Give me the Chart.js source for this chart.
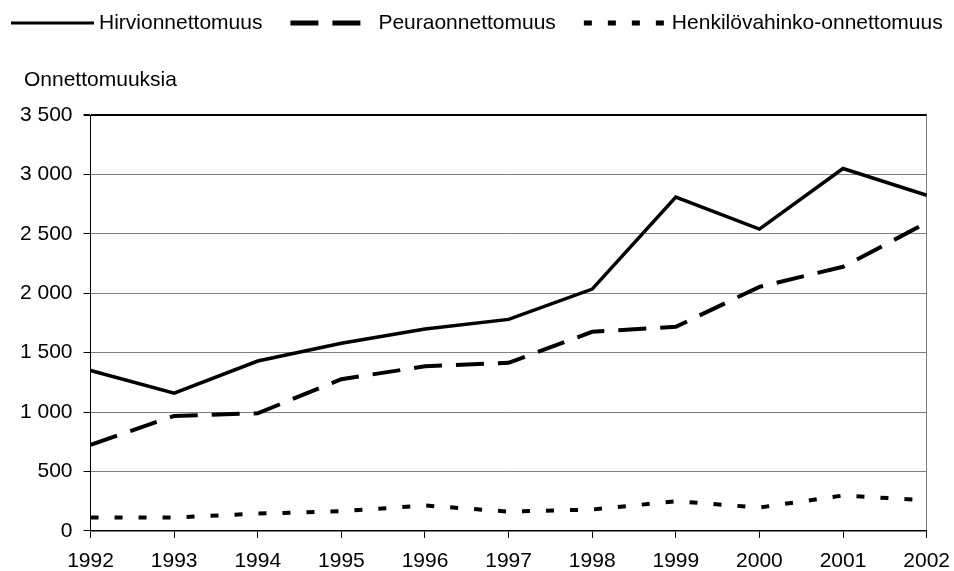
<!DOCTYPE html>
<html>
<head>
<meta charset="utf-8">
<script src="https://cdn.jsdelivr.net/npm/chart.js@4.4.0/dist/chart.umd.min.js"></script>
<style>
    html, body { margin: 0; padding: 0; background: #fff; }
    #wrap { width: 954px; height: 571px; }
</style>
</head>
<body>
<div id="wrap"><canvas id="accidentChart"></canvas></div>
<script>
// data
const years = ["1992", "1993", "1994", "1995", "1996", "1997", "1998", "1999", "2000", "2001", "2002"];
const hirvi = [1350, 1160, 1430, 1580, 1700, 1780, 2035, 2810, 2540, 3050, 2825];
const peura = [725, 968, 990, 1277, 1385, 1415, 1676, 1718, 2054, 2223, 2593];
const henkilo = [113, 113, 146, 166, 214, 163, 180, 250, 197, 298, 258];
const seriesNames = ["Hirvionnettomuus", "Peuraonnettomuus", "Henkilövahinko-onnettomuus"];
const yTitle = "Onnettomuuksia";

const fontFamily = '"Liberation Sans", Arial, sans-serif';
const fontSize = 21;
Chart.defaults.font.family = fontFamily;
Chart.defaults.font.size = fontSize;
Chart.defaults.color = "#000";

// 3 500 style thousands separator
const fmt = (v) => v.toString().replace(/\B(?=(\d{3})+(?!\d))/g, " ");

const makeLine = (label, data, dash, width) => {
    return {
        label: label,
        data: data,
        borderColor: "#000",
        backgroundColor: "#000",
        borderWidth: width,
        borderDash: dash,
        borderCapStyle: "butt",
        borderJoinStyle: "miter",
        pointRadius: 0,
        tension: 0,
        fill: false
    };
};

// legend row + the horizontal axis caption, drawn like the original (line sample, text right after it)
const lineLegend = {
    id: "lineLegend",
    afterDraw(chart) {
        const ctx = chart.ctx;
        ctx.save();
        ctx.font = fontSize + "px " + fontFamily;
        ctx.fillStyle = "#000";
        ctx.textBaseline = "middle";
        ctx.textAlign = "left";
        let x = 11;
        const y = 23;
        chart.data.datasets.forEach((ds) => {
            ctx.save();
            ctx.strokeStyle = ds.borderColor;
            ctx.lineWidth = ds.borderDash.length ? 5 : 3;
            ctx.setLineDash(ds.borderDash);
            ctx.beginPath();
            ctx.moveTo(x, y);
            ctx.lineTo(x + 83, y);
            ctx.stroke();
            ctx.restore();
            ctx.fillText(ds.label, x + 88, y);
            x += 88 + ctx.measureText(ds.label).width + 28;
        });
        ctx.fillText(yTitle, 24, 80);
        ctx.restore();
    }
};

new Chart(document.getElementById("accidentChart"), {
    type: "line",
    data: {
        labels: years,
        datasets: [
            makeLine(seriesNames[0], hirvi, [], 3.5),
            makeLine(seriesNames[1], peura, [28, 14], 4),
            makeLine(seriesNames[2], henkilo, [8, 16], 4)
        ]
    },
    plugins: [lineLegend],
    options: {
        responsive: true,
        maintainAspectRatio: false,
        animation: false,
        layout: { padding: { left: 9, right: 27, top: 115, bottom: -14 } },
        plugins: {
            legend: { display: false },
            title: { display: false },
            tooltip: { enabled: false }
        },
        scales: {
            x: {
                offset: false,
                border: { color: "#000", width: 1.5 },
                grid: {
                    drawOnChartArea: true,
                    color: (ctx) => ctx.index === years.length - 1 ? "#808080" : "rgba(0,0,0,0)",
                    tickColor: "#000",
                    tickLength: 7,
                    lineWidth: 1
                },
                ticks: {
                    padding: 4,
                    maxRotation: 0,
                    autoSkip: false,
                    font: { size: fontSize, lineHeight: 1.86 }
                }
            },
            y: {
                min: 0,
                max: 3500,
                border: { color: "#000", width: 1 },
                grid: {
                    color: (ctx) => (ctx.tick && (ctx.tick.value === 3500 || ctx.tick.value === 0)) ? "#000" : "#808080",
                    lineWidth: (ctx) => (ctx.tick && ctx.tick.value === 3500) ? 2 : 1,
                    tickColor: "#000",
                    tickLength: 7
                },
                ticks: {
                    stepSize: 500,
                    padding: 11,
                    callback: (v) => fmt(v)
                }
            }
        }
    }
});
</script>
</body>
</html>
